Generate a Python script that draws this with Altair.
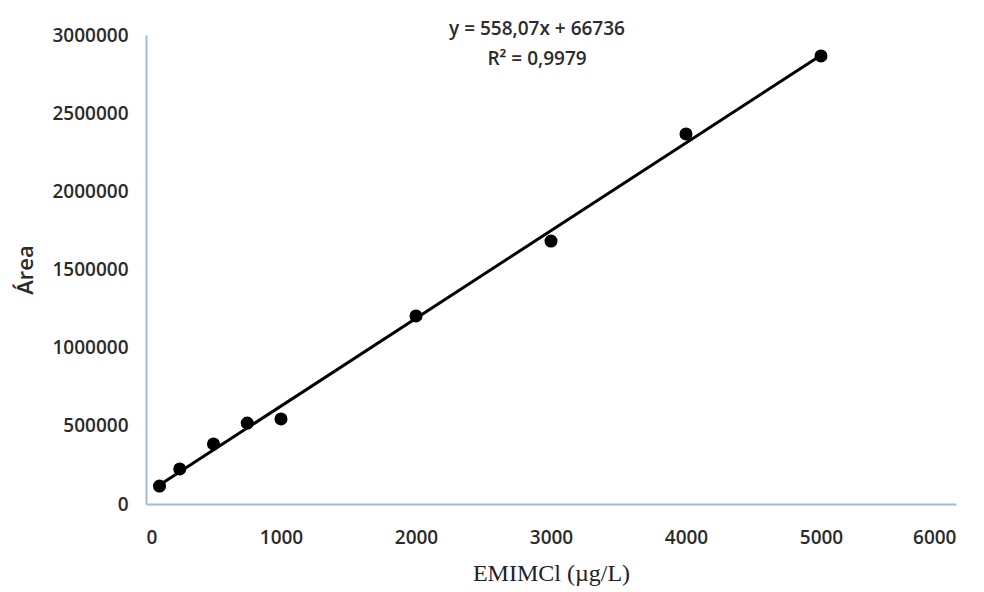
import altair as alt
import pandas as pd

conc = [100, 250, 500, 750, 1000, 2000, 3000, 4000, 5000]
area = [115000, 224000, 384000, 518000, 544000, 1203000, 1682000, 2367000, 2866000]
x_ticks = [0, 1000, 2000, 3000, 4000, 5000, 6000]
y_ticks = [0, 500000, 1000000, 1500000, 2000000, 2500000, 3000000]
eq_lines = ["y = 558,07x + 66736", "R² = 0,9979"]

df = pd.DataFrame({"conc": conc, "area": area})

axis_color = "#9dbdd1"
label_font = "Open Sans"
text_color = "#2b2b2b"

x_enc = alt.X(
    "conc:Q",
    scale=alt.Scale(domain=[0, 6000], nice=False, zero=True),
    axis=alt.Axis(
        values=x_ticks, format="d", title="EMIMCl (µg/L)", grid=False, ticks=False,
        domainColor=axis_color, domainWidth=2, labelFont=label_font, labelFontSize=19,
        labelColor=text_color, labelPadding=24, labelFontWeight=600,
        titleFont="Liberation Serif", titleFontSize=24, titleFontWeight="normal",
        titleColor="#222222", titlePadding=14,
    ),
)
y_enc = alt.Y(
    "area:Q",
    scale=alt.Scale(domain=[0, 3000000], nice=False),
    axis=alt.Axis(
        values=y_ticks, format="d", title="Área", grid=False, ticks=False,
        domainColor=axis_color, domainWidth=2, labelFont=label_font, labelFontSize=19,
        labelColor=text_color, labelPadding=18, labelFontWeight=600,
        titleFont=label_font, titleFontSize=22, titleFontWeight=600,
        titleColor=text_color, titlePadding=14,
    ),
)

points = alt.Chart(df).mark_circle(size=170, color="black", opacity=1).encode(x=x_enc, y=y_enc)

trend = (
    alt.Chart(df)
    .transform_regression("conc", "area", method="linear")
    .mark_line(color="black", strokeWidth=3)
    .encode(x="conc:Q", y="area:Q")
)

eq_df = pd.DataFrame({"text": ["\n".join(eq_lines)]})
eq = (
    alt.Chart(eq_df)
    .mark_text(
        font=label_font, fontSize=19, fontWeight=600, color=text_color,
        align="center", baseline="top", lineBreak="\n", lineHeight=30,
    )
    .encode(text="text:N", x=alt.value(391), y=alt.value(-15))
)

chart = (
    alt.layer(points, trend, eq)
    .properties(
        width=810,
        height=469,
        background="white",
        autosize=alt.AutoSizeParams(type="none"),
        padding={"left": 138, "top": 27, "right": 10, "bottom": 84},
    )
    .configure_view(strokeWidth=0, stroke="transparent")
)

chart.save("out.html", embed_options={"renderer": "svg", "actions": False})
